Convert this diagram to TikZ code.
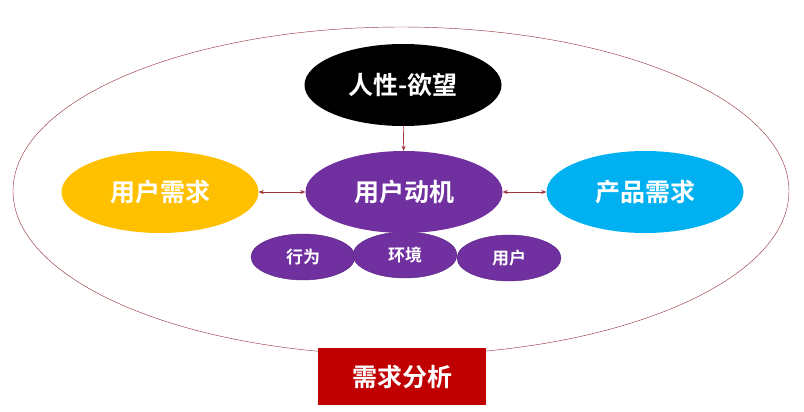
\documentclass[tikz,border=0pt]{standalone}
\usepackage{fontspec}
\setmainfont{Noto Sans CJK SC Bold}
\usetikzlibrary{shapes.geometric,arrows.meta}
\definecolor{cpurple}{HTML}{7030A0}
\definecolor{cyellow}{HTML}{FFC000}
\definecolor{cblue}{HTML}{00B0F0}
\definecolor{cred}{HTML}{C00000}
\definecolor{cline}{HTML}{A0303A}
\begin{document}
\begin{tikzpicture}[x=1pt,y=-1pt,
  bigell/.style={ellipse,inner sep=0pt,minimum width=197pt,minimum height=82pt,text=white,font=\fontsize{25}{25}\selectfont},
  smallell/.style={ellipse,inner sep=0pt,minimum width=104pt,minimum height=46pt,fill=cpurple,draw=cpurple!80!black,line width=0.4pt,text=white,font=\fontsize{17}{17}\selectfont},
  conn/.style={draw=cline,line width=0.6pt,-{Stealth[length=5pt,width=4pt]}},
  biconn/.style={draw=cline,line width=0.6pt,{Stealth[length=5pt,width=4pt]}-{Stealth[length=5pt,width=4pt]}}]
\useasboundingbox (0,0) rectangle (804,412);
\fill[white] (0,0) rectangle (804,412);
\node[ellipse,draw=cline!85!gray,line width=0.45pt,inner sep=0pt,minimum width=776pt,minimum height=328pt] (outer) at (401,191) {};
\node[smallell] (xw) at (303,257) {行为};
\node[smallell] (yh) at (509,258) {用户};
\node[smallell] (hj) at (405,255) {环境};
\node[bigell,fill=black] (rx) at (403,85) {人性-欲望};
\node[bigell,fill=cpurple] (dj) at (404,192) {用户动机};
\node[bigell,fill=cyellow] (yx) at (160,192) {用户需求};
\node[bigell,fill=cblue] (cx) at (645,192) {产品需求};
\node[fill=cred,minimum width=168pt,minimum height=57pt,inner sep=0pt,text=white,font=\fontsize{25}{25}\selectfont] (fx) at (402,376.5) {需求分析};
\draw[conn] (rx) -- (dj);
\draw[biconn] (yx) -- (dj);
\draw[biconn] (dj) -- (cx);
\end{tikzpicture}
\end{document}
